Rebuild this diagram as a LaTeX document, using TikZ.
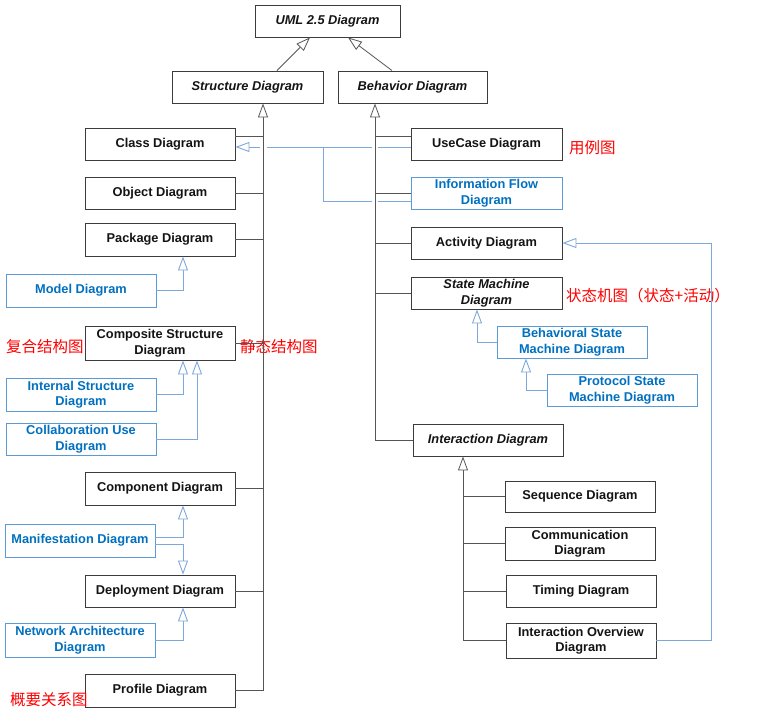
\documentclass[tikz,border=0pt]{standalone}
\usepackage{fontspec}
\setmainfont{Liberation Sans}
\newfontfamily\cjk{Noto Sans CJK SC}
\usetikzlibrary{arrows.meta}
\definecolor{bluetxt}{RGB}{0,112,192}
\definecolor{blueline}{RGB}{91,155,213}
\definecolor{bluecon}{RGB}{125,168,218}
\definecolor{boxline}{RGB}{60,60,60}
\definecolor{conline}{RGB}{85,85,85}
\definecolor{cnred}{RGB}{255,0,0}
\begin{document}
\begin{tikzpicture}[x=1pt,y=-1pt,
  box/.style={draw=boxline, line width=0.9pt, fill=white, inner sep=0pt, align=center,
    font=\bfseries\fontsize{12.8}{15.5}\selectfont, text=black!92,
    minimum width=150pt, minimum height=32pt},
  abox/.style={box, font=\bfseries\itshape\fontsize{12.8}{15.5}\selectfont},
  bbox/.style={box, draw=blueline, text=bluetxt},
  con/.style={draw=conline, line width=0.8pt},
  bcon/.style={draw=bluecon, line width=0.9pt},
  gen/.style={-{Triangle[open,length=14pt,width=10pt,fill=white]}},
  cn/.style={anchor=west, inner sep=0pt, text=cnred, font=\cjk\fontsize{15.5}{16}\selectfont}
]
\useasboundingbox (0,0) rectangle (776,723);
\fill[white] (0,0) rectangle (776,723);

% top level
\node[abox, minimum width=145pt] (uml) at (327.5,21) {UML 2.5 Diagram};
\node[abox, minimum width=151pt] (struct) at (247.5,87) {Structure Diagram};
\node[abox, minimum width=149pt] (behav) at (412.5,87) {Behavior Diagram};

% structure side
\node[box] (class) at (160,144) {Class Diagram};
\node[box] (object) at (160,193) {Object Diagram};
\node[box, minimum height=33pt] (package) at (160,239.5) {Package Diagram};
\node[bbox, minimum height=33pt] (model) at (81,290.5) {Model Diagram};
\node[box, minimum height=34pt] (composite) at (160,343) {Composite Structure\\Diagram};
\node[bbox, minimum height=33pt] (internal) at (81,394.5) {Internal Structure\\Diagram};
\node[bbox] (collab) at (81,439) {Collaboration Use\\Diagram};
\node[box, minimum height=33pt] (component) at (160,488.5) {Component Diagram};
\node[bbox, minimum height=33pt] (manifest) at (80,540.5) {Manifestation Diagram};
\node[box] (deploy) at (160,591) {Deployment Diagram};
\node[bbox, minimum height=34pt] (network) at (80,640) {Network Architecture\\Diagram};
\node[box, minimum height=33pt] (profile) at (160,690.5) {Profile Diagram};

% behavior side
\node[box, minimum width=151pt] (usecase) at (486.5,144) {UseCase Diagram};
\node[bbox, minimum width=151pt] (infoflow) at (486.5,193) {Information Flow\\Diagram};
\node[box, minimum width=151pt] (activity) at (486.5,243) {Activity Diagram};
\node[abox, minimum width=151pt] (statemachine) at (486.5,293) {State Machine\\Diagram};
\node[bbox] (bsm) at (572,342) {Behavioral State\\Machine Diagram};
\node[bbox] (psm) at (622,390) {Protocol State\\Machine Diagram};
\node[abox] (interaction) at (488,440) {Interaction Diagram};
\node[box, minimum height=31pt] (sequence) at (580,496.5) {Sequence Diagram};
\node[box, minimum height=33pt] (communication) at (580,543.5) {Communication\\Diagram};
\node[box] (timing) at (581,591) {Timing Diagram};
\node[box, minimum height=35pt] (overview) at (581,640.5) {Interaction Overview\\Diagram};

% Chinese annotations
\node[cn] (l1) at (569,148) {用例图};
\node[cn] (l2) at (566,296) {状态机图（状态+活动）};
\node[cn] (l3) at (6,347) {复合结构图};
\node[cn] (l4) at (240,347) {静态结构图};
\node[cn] (l5) at (10,700) {概要关系图};

% bus coordinates
\coordinate (sb) at (263,0);
\coordinate (bb) at (375,0);
\coordinate (ib) at (463,0);
\coordinate (rb) at (711,0);
\coordinate (fb) at (323,0);
\coordinate (pk) at (183,0);
\coordinate (cu) at (197,0);
\coordinate (sm) at (477,0);
\coordinate (bs) at (526,0);

% blue generalizations (structure side)
\draw[bcon, gen] (model.east) -- (pk |- model.east) -- (pk |- package.south);
\draw[bcon, gen] (internal.east) -- (pk |- internal.east) -- (pk |- composite.south);
\draw[bcon, gen] (collab.east) -- (cu |- collab.east) -- (cu |- composite.south);
\draw[bcon, gen] ([yshift=3.5pt]manifest.east) -- ([yshift=3.5pt]pk |- manifest.east) -- (pk |- component.south);
\draw[bcon, gen] ([yshift=-3.5pt]manifest.east) -- ([yshift=-3.5pt]pk |- manifest.east) -- (pk |- deploy.north);
\draw[bcon, gen] (network.east) -- (pk |- network.east) -- (pk |- deploy.south);

% blue generalizations to Class Diagram
\draw[bcon, gen] ([yshift=-3pt]usecase.west) -- ([yshift=-3pt]class.east);
\draw[bcon] ([yshift=-8pt]infoflow.west) -- ([yshift=-8pt]fb |- infoflow.west) -- ([yshift=-3pt]fb |- class.east);

% blue generalizations (behavior side)
\draw[bcon, gen] (bsm.west) -- (sm |- bsm.west) -- (sm |- statemachine.south);
\draw[bcon, gen] (psm.west) -- (bs |- psm.west) -- (bs |- bsm.south);
\draw[bcon, gen] (overview.east) -- (rb |- overview.east) -- (rb |- activity.east) -- (activity.east);

% line jump gaps
\draw[white, line width=7pt] ([yshift=4pt]sb |- usecase.west) -- ([yshift=-10pt]sb |- usecase.west);
\draw[white, line width=6pt] ([yshift=4pt]bb |- usecase.west) -- ([yshift=-10pt]bb |- usecase.west);
\draw[white, line width=6pt] ([yshift=-4pt]bb |- infoflow.west) -- ([yshift=-12pt]bb |- infoflow.west);

% top generalizations
\draw[con, gen] ([xshift=29.5pt]struct.north) -- ([xshift=-17.5pt]uml.south);
\draw[con, gen] ([xshift=-20.5pt]behav.north) -- ([xshift=20.5pt]uml.south);

% structure bus
\draw[con, gen] (sb |- profile.east) -- (sb |- struct.south);
\draw[con] ([yshift=8pt]class.east) -- ([yshift=8pt]sb |- class.east);
\draw[con] (object.east) -- (sb |- object.east);
\draw[con] (package.east) -- (sb |- package.east);
\draw[con] (composite.east) -- (sb |- composite.east);
\draw[con] (component.east) -- (sb |- component.east);
\draw[con] (deploy.east) -- (sb |- deploy.east);
\draw[con] (profile.east) -- (sb |- profile.east);

% behavior bus
\draw[con, gen] (bb |- interaction.west) -- (bb |- behav.south);
\draw[con] ([yshift=8pt]usecase.west) -- ([yshift=8pt]bb |- usecase.west);
\draw[con] (infoflow.west) -- (bb |- infoflow.west);
\draw[con] (activity.west) -- (bb |- activity.west);
\draw[con] (statemachine.west) -- (bb |- statemachine.west);
\draw[con] (interaction.west) -- (bb |- interaction.west);

% interaction bus
\draw[con, gen] (ib |- overview.west) -- (ib |- interaction.south);
\draw[con] (sequence.west) -- (ib |- sequence.west);
\draw[con] (communication.west) -- (ib |- communication.west);
\draw[con] (timing.west) -- (ib |- timing.west);
\draw[con] (overview.west) -- (ib |- overview.west);
\end{tikzpicture}
\end{document}
